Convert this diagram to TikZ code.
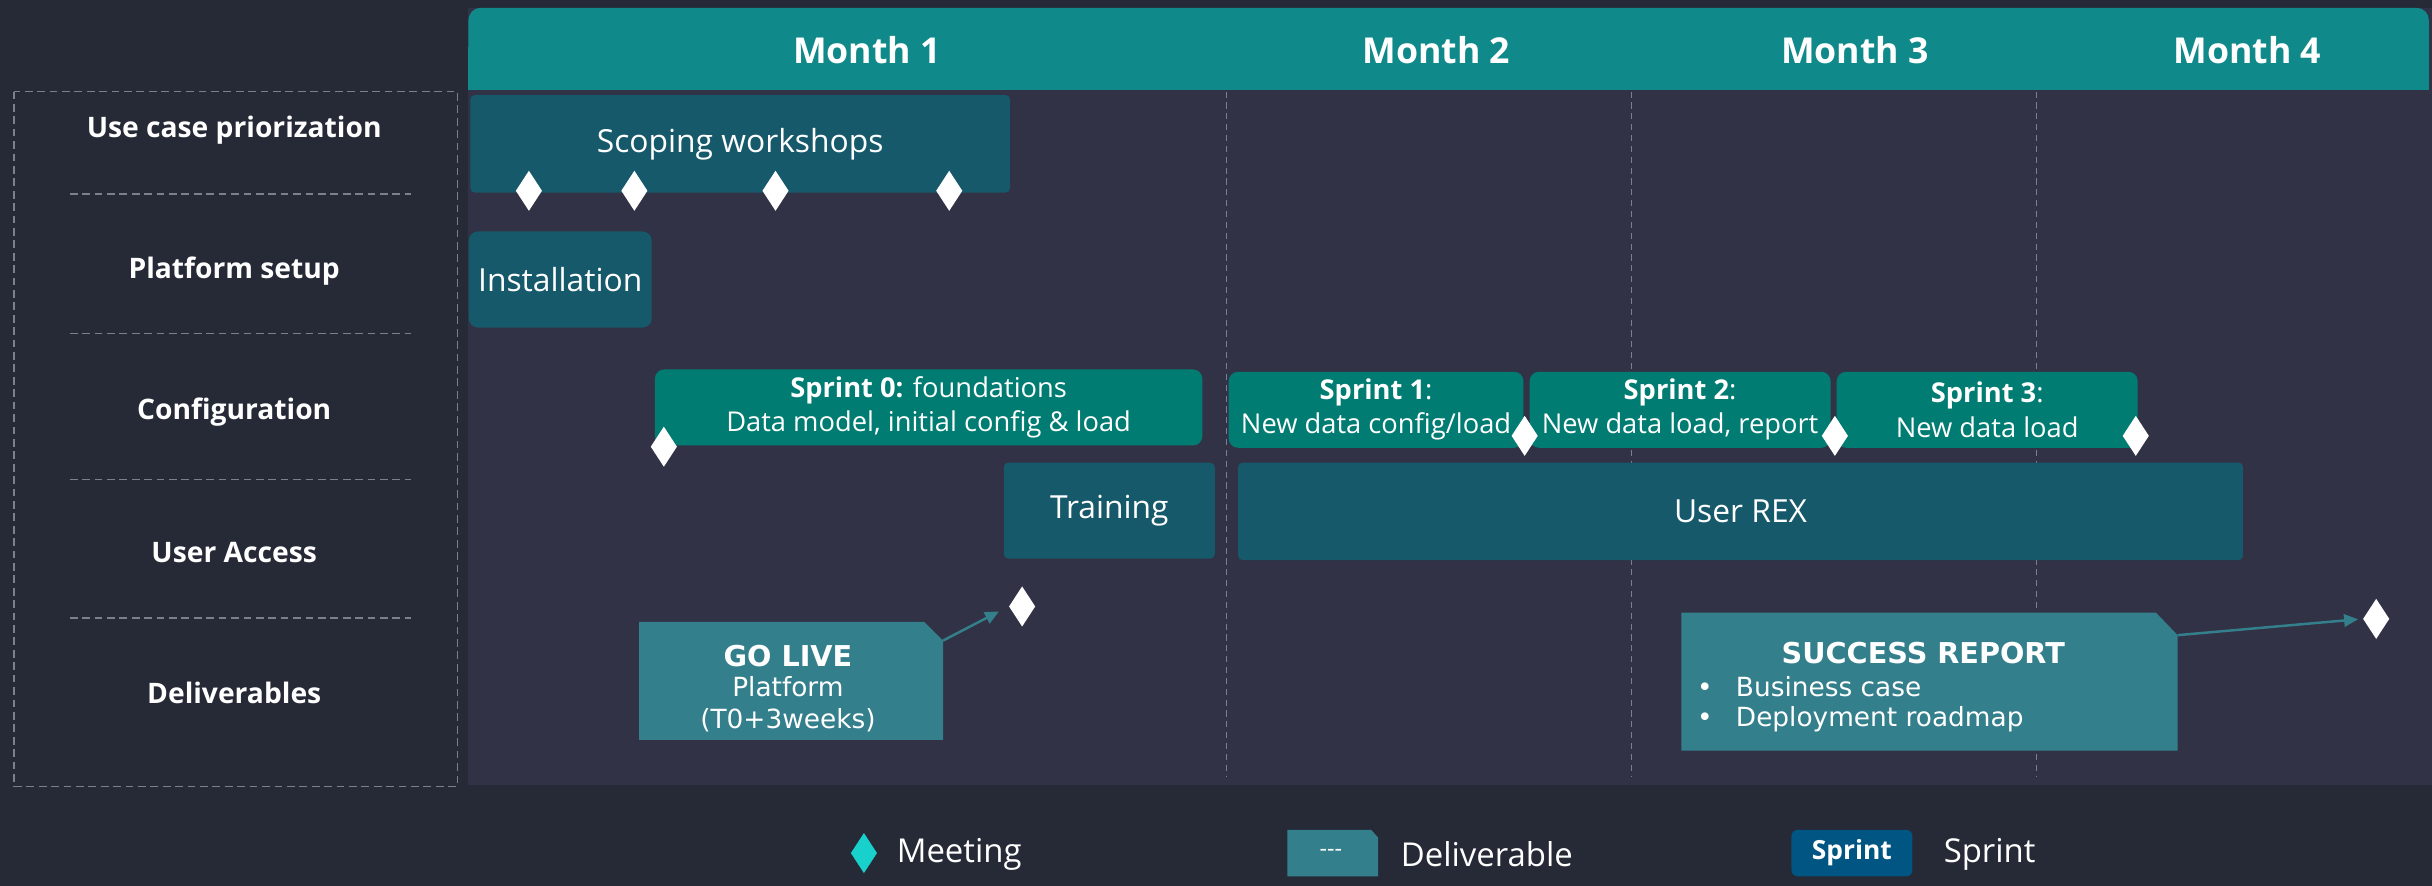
\documentclass[tikz,border=0pt]{standalone}
\usepackage{fontspec}
\setmainfont{Open Sans}
\newfontfamily\delivfont{DejaVu Sans}
\usetikzlibrary{shapes.geometric,arrows.meta}
\definecolor{pagebg}{RGB}{38,41,54}
\definecolor{chartbg}{RGB}{49,50,69}
\definecolor{headc}{RGB}{16,137,138}
\definecolor{taskc}{RGB}{22,89,106}
\definecolor{sprintc}{RGB}{1,124,114}
\definecolor{delivc}{RGB}{52,127,140}
\definecolor{legsprint}{RGB}{0,85,130}
\definecolor{meetc}{RGB}{24,208,204}
\definecolor{gridc}{RGB}{125,128,140}
\tikzset{
  monthlbl/.style={text=white, font=\bfseries\fontsize{23}{27}\selectfont},
  rowlbl/.style={text=white, font=\bfseries\fontsize{18.2}{21}\selectfont},
  taskbox/.style={fill=taskc, rounded corners=3pt, text=white, font=\fontsize{20.5}{24}\selectfont, inner sep=0pt, anchor=north west},
  sprintbox/.style={fill=sprintc, rounded corners=6pt, text=white, font=\fontsize{17.6}{22}\selectfont, align=center, inner sep=0pt, anchor=north west},
  milestone/.style={diamond, fill=white, minimum width=17pt, minimum height=26pt, inner sep=0pt},
  delivshape/.style={fill=delivc},
  delivtext/.style={text=white, font=\delivfont\fontsize{17}{21}\selectfont, align=center},
  delivtitle/.style={text=white, font=\delivfont\bfseries\fontsize{18.5}{21}\selectfont},
  bullettext/.style={text=white, font=\delivfont\fontsize{17}{20.5}\selectfont, anchor=west, inner sep=0pt},
  delivarrow/.style={draw=delivc, line width=1.6pt, -{Triangle[length=9pt,width=8pt]}},
  vline/.style={draw=gridc, dash pattern=on 4pt off 3pt, line width=0.6pt},
  rowsep/.style={draw=gridc, dash pattern=on 5pt off 3pt, line width=0.9pt},
  framebox/.style={draw=gridc, dash pattern=on 5pt off 3pt, line width=0.9pt},
  legtext/.style={text=white, font=\fontsize{21.2}{24}\selectfont, anchor=west, inner sep=0pt}
}
\begin{document}
\begin{tikzpicture}[x=1pt,y=-1pt]
\useasboundingbox (0,0) rectangle (1568,571);
\fill[pagebg] (0,0) rectangle (1568,571);
\fill[chartbg] (302,5) rectangle (1568,506);
% header
\fill[headc, rounded corners=8pt] (302,5) rectangle (1566,58);
\fill[headc] (302,30) rectangle (1566,58);
\node[monthlbl] (m1) at (559,32) {Month 1};
\node[monthlbl] (m2) at (926,32) {Month 2};
\node[monthlbl] (m3) at (1196,32) {Month 3};
\node[monthlbl] (m4) at (1449,32) {Month 4};
% month grid
\draw[vline] (791,59) -- (791,501);
\draw[vline] (1052,59) -- (1052,501);
\draw[vline] (1313,59) -- (1313,501);
% left panel
\draw[framebox] (9,59) rectangle (295,507);
\draw[rowsep] (45,125) -- (265,125);
\draw[rowsep] (45,215) -- (265,215);
\draw[rowsep] (45,309) -- (265,309);
\draw[rowsep] (45,398.5) -- (265,398.5);
\node[rowlbl] (r1) at (151,84) {Use case priorization};
\node[rowlbl] (r2) at (151,175) {Platform setup};
\node[rowlbl] (r3) at (151,266) {Configuration};
\node[rowlbl] (r4) at (151,356) {User Access};
\node[rowlbl] (r5) at (151,447) {Deliverables};
% row 1
\node[taskbox, minimum width=348pt, minimum height=63pt] (scope) at (303,61) {Scoping workshops};
\node[milestone] (d11) at (341,123) {};
\node[milestone] (d12) at (409,123) {};
\node[milestone] (d13) at (500,123) {};
\node[milestone] (d14) at (612,123) {};
% row 2
\node[taskbox, rounded corners=6pt, minimum width=118pt, minimum height=62pt] (install) at (302,149) {Installation};
% row 3
\node[sprintbox, minimum width=353pt, minimum height=49pt] (s0) at (422,238) {\textbf{Sprint 0:} foundations\\Data model, initial config \& load};
\node[sprintbox, minimum width=190pt, minimum height=49pt] (s1) at (792,239.5) {\textbf{Sprint 1}:\\New data config/load};
\node[sprintbox, minimum width=194pt, minimum height=49pt] (s2) at (986,239.5) {\textbf{Sprint 2}:\\New data load, report};
\node[sprintbox, minimum width=194pt, minimum height=49pt] (s3) at (1184,239.5) {\textbf{Sprint 3}:\\New data load};
\node[milestone] (d30) at (428,288) {};
\node[milestone] (d31) at (983,281) {};
\node[milestone] (d32) at (1183,281) {};
\node[milestone] (d33) at (1377,281) {};
% row 4
\node[taskbox, minimum width=136pt, minimum height=62pt] (train) at (647,298) {Training};
\node[taskbox, minimum width=648pt, minimum height=63pt] (rex) at (798,298) {User REX};
% row 5
\node[milestone] (d51) at (659,391) {};
\node[milestone] (d52) at (1532,399) {};
\fill[delivshape] (412,401) -- (596,401) -- (608,413) -- (608,477) -- (412,477) -- cycle;
\coordinate (golivec) at (608,413);
\node[delivtitle] (golivet) at (508,423) {GO LIVE};
\node[delivtext] (golive) at (508,454) {Platform\\(T0+3weeks)};
\fill[delivshape] (1084,395) -- (1390,395) -- (1404,409.5) -- (1404,484) -- (1084,484) -- cycle;
\coordinate (succc) at (1404,409.5);
\node[delivtitle] (succ) at (1240,421) {SUCCESS REPORT};
\node[bullettext] (b1) at (1094,443) {\textbullet\hspace{15pt}Business case};
\node[bullettext] (b2) at (1094,464) {\textbullet\hspace{15pt}Deployment roadmap};
\draw[delivarrow, shorten >=7pt] (golivec) -- (d51.west);
\draw[delivarrow, shorten >=3pt] (succc) -- (d52.west);
% legend
\node[milestone, fill=meetc] (lgm) at (557,550) {};
\node[legtext] (lgmt) at (578,551) {Meeting};
\fill[delivshape] (830,535) -- (884,535) -- (888.5,540) -- (888.5,565) -- (830,565) -- cycle;
\node[text=white, font=\fontsize{15}{16}\selectfont] (lgd) at (858,550) {-{}-{}-};
\node[legtext] (lgdt) at (903,551) {Deliverable};
\node[fill=legsprint, rounded corners=4pt, minimum width=78pt, minimum height=30pt, inner sep=0pt, text=white, font=\bfseries\fontsize{17}{19}\selectfont] (lgs) at (1194,550) {Sprint};
\node[legtext] (lgst) at (1253,551) {Sprint};
\end{tikzpicture}
\end{document}
